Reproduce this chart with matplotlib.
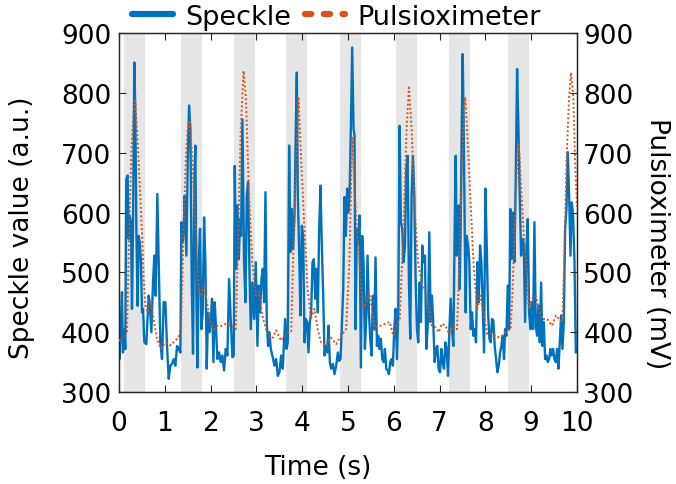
import numpy as np
import matplotlib.pyplot as plt
from matplotlib.lines import Line2D

# speckle signal (time in s, value in a.u.)
speckle_t = [0.0, 0.015, 0.044, 0.066, 0.087, 0.117, 0.138, 0.160, 0.189, 0.211,
             0.233, 0.262, 0.284, 0.306, 0.335, 0.357, 0.379, 0.408, 0.430, 0.452,
             0.481, 0.503, 0.525, 0.554, 0.597, 0.648, 0.670, 0.707, 0.743, 0.772,
             0.801, 0.838, 0.867, 0.903, 0.940, 0.976, 1.013, 1.049, 1.086, 1.122,
             1.158, 1.195, 1.231, 1.268, 1.304, 1.341, 1.362, 1.392, 1.413, 1.435,
             1.472, 1.501, 1.530, 1.559, 1.588, 1.617, 1.647, 1.668, 1.690, 1.712,
             1.741, 1.770, 1.799, 1.828, 1.858, 1.887, 1.916, 1.945, 1.974, 2.003,
             2.032, 2.062, 2.091, 2.120, 2.149, 2.185, 2.222, 2.258, 2.295, 2.331,
             2.368, 2.404, 2.440, 2.477, 2.506, 2.528, 2.557, 2.586, 2.615, 2.644,
             2.666, 2.695, 2.732, 2.761, 2.790, 2.819, 2.848, 2.878, 2.914, 2.951,
             2.987, 3.023, 3.053, 3.082, 3.111, 3.140, 3.169, 3.198, 3.227, 3.256,
             3.286, 3.315, 3.358, 3.395, 3.431, 3.468, 3.504, 3.541, 3.577, 3.599,
             3.628, 3.657, 3.686, 3.715, 3.745, 3.774, 3.803, 3.832, 3.861, 3.883,
             3.905, 3.934, 3.963, 3.992, 4.021, 4.051, 4.080, 4.109, 4.138, 4.167,
             4.196, 4.225, 4.255, 4.284, 4.313, 4.342, 4.371, 4.400, 4.429, 4.459,
             4.488, 4.517, 4.546, 4.575, 4.604, 4.633, 4.670, 4.706, 4.743, 4.779,
             4.808, 4.837, 4.867, 4.896, 4.925, 4.954, 4.983, 5.005, 5.034, 5.063,
             5.092, 5.122, 5.143, 5.165, 5.194, 5.224, 5.253, 5.282, 5.311, 5.340,
             5.369, 5.398, 5.428, 5.457, 5.486, 5.515, 5.544, 5.573, 5.602, 5.632,
             5.661, 5.690, 5.719, 5.748, 5.777, 5.806, 5.836, 5.865, 5.894, 5.923,
             5.952, 5.981, 6.010, 6.040, 6.069, 6.098, 6.127, 6.156, 6.185, 6.214,
             6.244, 6.273, 6.302, 6.331, 6.360, 6.389, 6.418, 6.448, 6.477, 6.506,
             6.535, 6.564, 6.593, 6.622, 6.652, 6.681, 6.710, 6.747, 6.776, 6.806,
             6.835, 6.864, 6.893, 6.922, 6.951, 6.980, 7.010, 7.039, 7.068, 7.097,
             7.126, 7.155, 7.184, 7.214, 7.243, 7.272, 7.301, 7.330, 7.352, 7.374,
             7.396, 7.418, 7.439, 7.461, 7.483, 7.505, 7.527, 7.549, 7.571, 7.592,
             7.622, 7.651, 7.680, 7.709, 7.738, 7.767, 7.796, 7.826, 7.855, 7.884,
             7.913, 7.942, 7.971, 8.000, 8.030, 8.059, 8.088, 8.117, 8.146, 8.175,
             8.204, 8.233, 8.263, 8.292, 8.321, 8.350, 8.379, 8.408, 8.430, 8.459,
             8.489, 8.518, 8.547, 8.576, 8.605, 8.634, 8.663, 8.693, 8.722, 8.751,
             8.780, 8.809, 8.838, 8.867, 8.897, 8.926, 8.955, 8.984, 9.013, 9.042,
             9.071, 9.101, 9.130, 9.159, 9.188, 9.217, 9.246, 9.275, 9.305, 9.334,
             9.363, 9.392, 9.421, 9.450, 9.479, 9.509, 9.538, 9.567, 9.596, 9.625,
             9.654, 9.683, 9.713, 9.742, 9.771, 9.800, 9.829, 9.858, 9.887, 9.916,
             9.946, 9.975, 9.990]
speckle_v = [416, 355, 422, 467, 366, 405, 372, 656, 662, 556,
             595, 584, 439, 573, 851, 768, 573, 444, 561, 550,
             517, 433, 439, 383, 380, 461, 450, 400, 483, 528,
             461, 631, 517, 383, 355, 450, 450, 377, 322, 344,
             347, 355, 344, 377, 372, 366, 584, 550, 573, 628,
             528, 684, 779, 740, 489, 364, 656, 712, 461, 341,
             517, 573, 405, 433, 592, 517, 339, 433, 400, 417,
             456, 350, 450, 405, 355, 366, 350, 361, 336, 372,
             361, 489, 422, 358, 361, 678, 506, 612, 522, 589,
             561, 756, 517, 450, 628, 651, 506, 405, 483, 422,
             517, 377, 478, 433, 489, 506, 450, 634, 417, 377,
             400, 372, 358, 344, 355, 327, 333, 361, 339, 377,
             422, 372, 383, 712, 534, 606, 539, 595, 740, 834,
             628, 534, 428, 578, 561, 383, 422, 417, 366, 417,
             433, 517, 522, 456, 506, 433, 573, 645, 545, 461,
             361, 377, 366, 411, 350, 339, 347, 330, 344, 366,
             352, 355, 411, 472, 626, 561, 640, 600, 628, 740,
             876, 740, 729, 405, 573, 550, 595, 341, 561, 517,
             372, 422, 528, 433, 389, 361, 461, 405, 525, 377,
             394, 372, 389, 355, 350, 372, 339, 336, 330, 350,
             355, 344, 405, 439, 355, 428, 745, 584, 573, 517,
             545, 673, 695, 483, 389, 628, 695, 628, 489, 405,
             383, 483, 417, 545, 517, 528, 372, 417, 567, 417,
             461, 411, 350, 372, 377, 339, 333, 372, 350, 339,
             383, 372, 327, 405, 456, 405, 377, 573, 695, 528,
             561, 612, 472, 573, 740, 865, 740, 573, 433, 561,
             545, 517, 405, 433, 394, 405, 383, 517, 450, 545,
             517, 444, 366, 640, 545, 433, 389, 383, 422, 419,
             377, 355, 333, 344, 366, 377, 394, 355, 405, 394,
             478, 405, 606, 522, 600, 517, 656, 840, 740, 628,
             528, 556, 550, 417, 539, 589, 433, 405, 450, 405,
             584, 411, 394, 444, 383, 483, 377, 417, 355, 361,
             350, 355, 372, 361, 372, 355, 350, 372, 339, 383,
             428, 372, 417, 573, 606, 701, 628, 528, 617, 595,
             517, 366, 370]

# pulsioximeter signal (time in s, value in mV)
pulse_t = [0.0, 0.05, 0.12, 0.175, 0.22, 0.27, 0.31, 0.357, 0.40, 0.43,
           0.47, 0.50, 0.54, 0.575, 0.63, 0.685, 0.75, 0.83, 0.92, 1.01,
           1.12, 1.23, 1.30, 1.355, 1.41, 1.46, 1.50, 1.545, 1.60, 1.64,
           1.69, 1.71, 1.75, 1.79, 1.86, 1.93, 2.0, 2.08, 2.15, 2.22,
           2.30, 2.37, 2.48, 2.55, 2.59, 2.63, 2.66, 2.72, 2.77, 2.84,
           2.91, 2.99, 3.06, 3.13, 3.21, 3.28, 3.35, 3.43, 3.54, 3.65,
           3.76, 3.80, 3.87, 3.92, 3.98, 4.05, 4.12, 4.19, 4.27, 4.34,
           4.41, 4.52, 4.63, 4.74, 4.85, 4.96, 5.03, 5.07, 5.10, 5.15,
           5.22, 5.33, 5.41, 5.46, 5.51, 5.59, 5.66, 5.73, 5.81, 5.91,
           5.99, 6.06, 6.13, 6.21, 6.28, 6.33, 6.39, 6.46, 6.53, 6.61,
           6.68, 6.76, 6.83, 6.91, 6.98, 7.05, 7.13, 7.21, 7.31, 7.38,
           7.42, 7.48, 7.53, 7.56, 7.62, 7.67, 7.74, 7.82, 7.89, 7.96,
           8.04, 8.15, 8.26, 8.37, 8.48, 8.55, 8.59, 8.65, 8.70, 8.73,
           8.79, 8.84, 8.89, 8.95, 9.02, 9.10, 9.17, 9.24, 9.35, 9.46,
           9.54, 9.61, 9.68, 9.72, 9.77, 9.83, 9.87, 9.92, 9.96, 10.0]
pulse_v = [385, 390, 392, 398, 560, 700, 760, 787, 730, 684,
           620, 572, 489, 445, 433, 452, 425, 389, 372, 383,
           378, 386, 391, 405, 572, 690, 740, 754, 690, 620,
           560, 506, 467, 461, 475, 445, 417, 405, 411, 410,
           413, 414, 410, 405, 517, 650, 740, 837, 795, 628,
           517, 461, 467, 428, 405, 394, 389, 403, 386, 397,
           400, 517, 684, 793, 684, 572, 472, 422, 439, 405,
           383, 377, 391, 380, 394, 405, 517, 650, 725, 628,
           544, 439, 450, 467, 445, 403, 411, 411, 414, 417,
           394, 411, 422, 572, 740, 809, 740, 600, 517, 481,
           472, 445, 411, 408, 400, 414, 411, 397, 411, 405,
           489, 656, 767, 793, 712, 628, 517, 439, 461, 433,
           397, 397, 391, 394, 403, 405, 461, 600, 695, 714,
           628, 561, 517, 439, 456, 461, 439, 422, 422, 411,
           428, 422, 417, 517, 684, 795, 834, 795, 684, 610]

# shaded intervals
band_start = [0.11, 1.355, 2.51, 3.65, 4.83, 6.05, 7.21, 8.50]
band_width = 0.46

x_ticks = list(range(0, 11))
y_ticks = [300, 400, 500, 600, 700, 800, 900]

blue = '#0072bd'
orange = '#d95319'
txt = '#262626'
fs = 19

fig = plt.figure(figsize=(6.76, 4.85), dpi=100)
ax = fig.add_axes([0.176, 0.1897, 0.6775, 0.740])
ax2 = ax.twinx()

for s in band_start:
    ax.axvspan(s, s + band_width, color='#e6e6e6', lw=0, zorder=0)

ax.plot(speckle_t, speckle_v, color=blue, lw=1.7, zorder=2)
ax2.plot(pulse_t, pulse_v, color=orange, lw=1.4, ls=(0, (1, 1.2)), zorder=3)

for a in (ax, ax2):
    a.set_xlim(0, 10)
    a.set_ylim(300, 900)
    a.set_yticks(y_ticks)
    for sp in a.spines.values():
        sp.set_color(txt)
        sp.set_linewidth(0.9)

ax.set_xticks(x_ticks)
ax.tick_params(axis='both', direction='in', length=5, width=0.8, colors=txt,
               labelsize=fs, labelcolor='black')
ax.tick_params(axis='x', top=True, pad=13)
ax.tick_params(axis='y', right=False, pad=5.5)
ax2.tick_params(axis='y', direction='in', length=5, width=0.8, colors=txt,
                labelsize=fs, labelcolor='black', pad=4.5)

ax.set_xlabel('Time (s)', fontsize=fs, va='center')
ax.xaxis.set_label_coords(0.4345, -0.209)
ax.set_ylabel('Speckle value (a.u.)', fontsize=fs, va='center')
ax.yaxis.set_label_coords(-0.212, 0.46)
ax2.set_ylabel('Pulsioximeter (mV)', fontsize=fs, rotation=270, va='center')
ax2.yaxis.set_label_coords(1.175, 0.415)

handles = [Line2D([], [], color=blue, lw=4.5, solid_capstyle='round'),
           Line2D([], [], color=orange, lw=4.5, ls=(0, (1.0, 2.0)),
                  dash_capstyle='round')]
fig.legend(handles, ['Speckle', 'Pulsioximeter'], loc='center',
           bbox_to_anchor=(0.498, 0.963), ncol=2, frameon=False, fontsize=fs + 0.5,
           handlelength=1.5, handletextpad=0.45, columnspacing=0.5,
           borderpad=0, borderaxespad=0)

fig.savefig('out.png', dpi=100)
